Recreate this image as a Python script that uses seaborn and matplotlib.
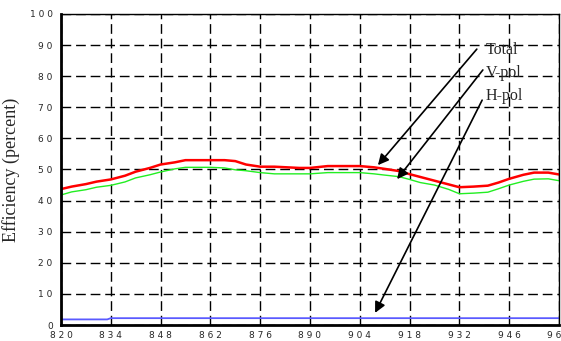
import numpy as np
import pandas as pd
import matplotlib
matplotlib.use("Agg")
import matplotlib.pyplot as plt
import seaborn as sns

# frequency (MHz) and efficiency (percent)
freq = [820, 823, 827, 830, 834, 838, 841, 845, 848, 852, 855, 862, 866, 869,
        872, 876, 880, 887, 890, 895, 904, 908, 911, 915, 918, 921, 925, 929,
        932, 936, 940, 943, 946, 950, 953, 957, 960]
total = [43.7, 44.5, 45.3, 46.1, 46.8, 48.0, 49.3, 50.5, 51.6, 52.3, 53.0, 53.0,
         53.0, 52.7, 51.6, 50.9, 50.9, 50.5, 50.5, 51.1, 51.1, 50.7, 50.2, 49.5,
         48.5, 47.6, 46.4, 45.2, 44.3, 44.5, 44.8, 45.8, 47.0, 48.3, 49.0, 49.0, 48.4]
vpol = [41.8, 42.8, 43.5, 44.3, 44.9, 46.0, 47.3, 48.3, 49.2, 50.2, 50.7, 50.7,
        50.5, 49.9, 49.6, 49.0, 48.6, 48.6, 48.6, 49.0, 49.0, 48.6, 48.2, 47.7,
        46.8, 45.8, 45.0, 43.6, 42.2, 42.4, 42.7, 43.8, 45.0, 46.2, 46.9, 47.0, 46.4]
hpol_freq = [820, 833, 834, 960]
hpol = [1.8, 1.8, 2.2, 2.2]

xticks = [820, 834, 848, 862, 876, 890, 904, 918, 932, 946, 960]
yticks = [0, 10, 20, 30, 40, 50, 60, 70, 80, 90, 100]

sns.set_style("white")

fig = plt.figure(figsize=(5.61, 3.41), dpi=100)
ax = fig.add_axes([0.1087, 0.0469, 0.8877, 0.9121])

sns.lineplot(x=hpol_freq, y=hpol, ax=ax, color="#5a5aff", linewidth=1.3)
sns.lineplot(x=freq, y=vpol, ax=ax, color="#22ee22", linewidth=1.0)
sns.lineplot(x=freq, y=total, ax=ax, color="#ff0000", linewidth=1.8)

ax.set_xlim(820, 960)
ax.set_ylim(0, 100)
ax.set_xticks(xticks)
ax.set_yticks(yticks)
ax.set_xticklabels([" ".join(str(t)) for t in xticks], fontsize=6.5)
ax.set_yticklabels([" ".join(str(t)) for t in yticks], fontsize=6.5)
ax.tick_params(axis="x", length=0, pad=4)
ax.tick_params(axis="y", length=0, pad=6)
ax.grid(True, color="black", linestyle=(0, (7, 3.5)), linewidth=1.0)

for side in ["left", "bottom"]:
    ax.spines[side].set_linewidth(2)
for side in ["top", "right"]:
    ax.spines[side].set_linewidth(1)
for s in ax.spines.values():
    s.set_color("black")

ax.set_xlabel("")
ax.set_ylabel("Efficiency (percent)", family="Liberation Serif", fontsize=13, labelpad=7)

# labels with arrows
labels = ["Total", "V-pol", "H-pol"]
text_pos = [(939.5, 88.4), (939.5, 81.0), (939.5, 73.6)]
tails = [(936.9, 88.7), (938.6, 82.0), (938.4, 72.3)]
heads = [(909.1, 51.4), (914.5, 46.9), (908.3, 3.9)]
for lab, tp, tl, hd in zip(labels, text_pos, tails, heads):
    ax.text(tp[0], tp[1], lab, family="Liberation Serif", fontsize=11.5,
            va="center", ha="left")
    ax.annotate("", xy=hd, xytext=tl,
                arrowprops=dict(arrowstyle="-|>", color="black", lw=1.2,
                                mutation_scale=16, shrinkA=0, shrinkB=0))

fig.savefig("out.png", dpi=100)
